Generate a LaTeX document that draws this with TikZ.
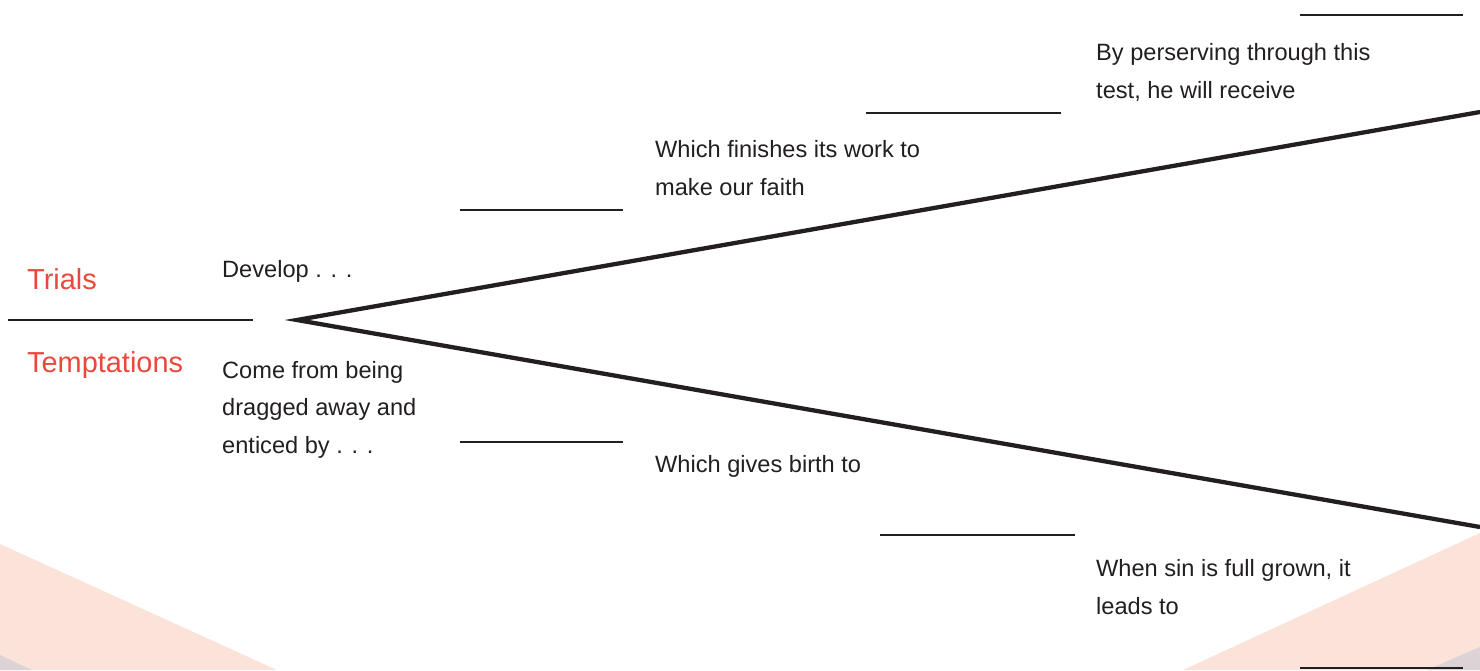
\documentclass[tikz,border=0pt]{standalone}
\usepackage{fontspec}
\setmainfont{Liberation Sans}
\definecolor{ink}{HTML}{231F20}
\definecolor{redtxt}{HTML}{E9483A}
\definecolor{pinkbg}{HTML}{FCE3D9}
\definecolor{graybg}{HTML}{DDD3D6}
\tikzset{
  body/.style={anchor=base west, inner sep=0pt, align=left, text=ink, font=\fontsize{23.6}{37.3}\selectfont},
  head/.style={anchor=base west, inner sep=0pt, text=redtxt, font=\fontsize{28.9}{34}\selectfont},
  blank/.style={draw=ink, line width=1.8pt},
  branch/.style={draw=ink, line width=4.3pt, line cap=butt, line join=miter, miter limit=20},
}
\begin{document}
\begin{tikzpicture}[x=1pt,y=-1pt]
\useasboundingbox (0,0) rectangle (1480,670);
% background shapes
\fill[pinkbg] (0,544) -- (277,670) -- (0,670) -- cycle;
\fill[graybg] (0,655) -- (32,670) -- (0,670) -- cycle;
\fill[pinkbg] (1183,670) -- (1480,533) -- (1480,670) -- cycle;
\fill[graybg] (1427,670) -- (1480,647) -- (1480,670) -- cycle;
% branch lines
\coordinate (vertex) at (297,320);
\coordinate (upend) at (1480,112);
\coordinate (lowend) at (1480,527);
\draw[branch] (upend) -- (vertex) -- (lowend);
% blanks
\coordinate (b0a) at (8,320);   \coordinate (b0b) at (253,320);
\coordinate (u1a) at (460,210); \coordinate (u1b) at (623,210);
\coordinate (u2a) at (866,113); \coordinate (u2b) at (1061,113);
\coordinate (u3a) at (1300,15); \coordinate (u3b) at (1463,15);
\coordinate (l1a) at (460,442); \coordinate (l1b) at (623,442);
\coordinate (l2a) at (880,535); \coordinate (l2b) at (1075,535);
\coordinate (l3a) at (1300,668); \coordinate (l3b) at (1463,668);
\draw[blank] (b0a) -- (b0b);
\draw[blank] (u1a) -- (u1b);
\draw[blank] (u2a) -- (u2b);
\draw[blank] (u3a) -- (u3b);
\draw[blank] (l1a) -- (l1b);
\draw[blank] (l2a) -- (l2b);
\draw[blank] (l3a) -- (l3b);
% headings
\node[head] (trials) at (27,289) {Trials};
\node[head] (tempt) at (27,372) {Temptations};
% texts (anchor = baseline of the last line)
\node[body] (develop) at (222,277) {Develop . . .};
\node[body] (come) at (222,453) {Come from being\\dragged away and\\enticed by . . .};
\node[body] (finish) at (655,195) {Which finishes its work to\\make our faith};
\node[body] (persev) at (1096,98) {By perserving through this\\test, he will receive};
\node[body] (birth) at (655,472) {Which gives birth to};
\node[body] (sin) at (1096,614) {When sin is full grown, it\\leads to};
\end{tikzpicture}
\end{document}
